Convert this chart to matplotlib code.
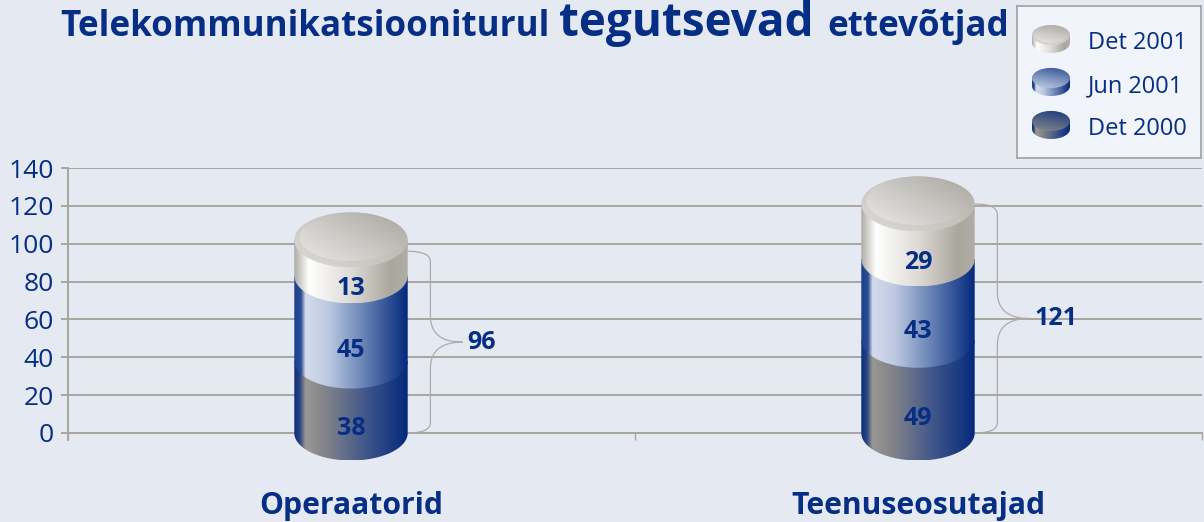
import numpy as np
import matplotlib
matplotlib.use("Agg")
import matplotlib.pyplot as plt
from matplotlib.colors import LinearSegmentedColormap as LSC
from matplotlib.path import Path
from matplotlib.patches import PathPatch

plt.rcParams['font.family'] = ['Open Sans', 'DejaVu Sans']

categories = ["Operaatorid", "Teenuseosutajad"]
det_2000 = [38, 49]
jun_2001 = [45, 43]
det_2001 = [13, 29]
det_2001_drawn = [19, 29]   # the top cylinder piece as drawn in the picture
totals = [96, 121]
series_names = ["Det 2001", "Jun 2001", "Det 2000"]
y_ticks = [0, 20, 40, 60, 80, 100, 120, 140]

W, H = 1204, 522
BG = "#e4e9f2"
NAVY = "#052e84"
LINE = "#a8a6a0"

SIDE = {
    "Det 2001": [(0, "#aeaba4"), (.08, "#e0dfdc"), (.13, "#ffffff"), (.5, "#dedbd6"), (.85, "#aaa79f"), (1, "#b0ada6")],
    "Jun 2001": [(0, "#1c3f8c"), (.06, "#2a4c94"), (.1, "#d5dcec"), (.3, "#bcc9e0"), (.6, "#6d86b8"), (1, "#04297c")],
    "Det 2000": [(0, "#0a2d7e"), (.05, "#2a437f"), (.1, "#9a9792"), (.3, "#7f8189"), (.6, "#465a8a"), (1, "#04297c")],
}
CAP_OUT = {
    "Det 2001": ["#dddcd9", "#aeaba4"],
    "Jun 2001": ["#c3cfe4", "#24478f"],
    "Det 2000": ["#8a8a8c", "#12337f"],
}
CAP_IN = {
    "Det 2001": ["#e9e8e6", "#aaa7a0"],
    "Jun 2001": ["#b8c6de", "#2f5298"],
    "Det 2000": ["#7d7f86", "#1c3b82"],
}


def cmap(stops):
    return LSC.from_list("c", stops)


def grad(ax, x0, x1, y0, y1, data, cm, clip):
    im = ax.imshow(data, extent=(x0, x1, y0, y1), origin="lower", aspect="auto",
                   cmap=cm, vmin=0, vmax=1, interpolation="bilinear", zorder=3)
    im.set_clip_box(ax.figure.bbox)
    im.set_clip_path(clip, ax.transData)


def side(ax, cx, hw, hh, y0, y1, stops):
    t = np.linspace(np.pi, 0, 60)
    xs = cx + hw * np.cos(t)
    ys = y0 - hh * np.sin(t)
    verts = [(cx - hw, y1)] + list(zip(xs, ys)) + [(cx + hw, y1), (cx - hw, y1)]
    grad(ax, cx - hw, cx + hw, y0 - hh, y1, np.linspace(0, 1, 256)[None, :], cmap(stops), Path(verts))


def ellipse_path(cx, cy, hw, hh):
    t = np.linspace(0, 2 * np.pi, 120)
    return Path(np.c_[cx + hw * np.cos(t), cy + hh * np.sin(t)])


def disc(ax, cx, cy, hw, hh, colors, angle):
    u, v = np.meshgrid(np.linspace(0, 1, 64), np.linspace(0, 1, 64))
    a = np.deg2rad(angle)
    d = (u * np.cos(a) + v * np.sin(a)) / (np.cos(a) + np.sin(a))
    grad(ax, cx - hw, cx + hw, cy - hh, cy + hh, d, cmap(colors), ellipse_path(cx, cy, hw, hh))


fig = plt.figure(figsize=(W / 100, H / 100), dpi=100, facecolor=BG)
L, R, T, B = 67.5, 1201.5, 168, 433
ax = fig.add_axes([L / W, 1 - B / H, (R - L) / W, (B - T) / H], facecolor="none")
ax.set_xlim(-0.5, 1.5)
ax.set_ylim(0, 140)
for s in ["top", "right"]:
    ax.spines[s].set_visible(False)
ax.spines["left"].set_color(LINE)
ax.spines["left"].set_linewidth(1.4)
ax.spines["left"].set_bounds(-3.7, 140)
ax.spines["left"].set_zorder(1)
ax.spines["bottom"].set_color(LINE)
ax.spines["bottom"].set_linewidth(1.4)
ax.spines["bottom"].set_zorder(1)
ax.set_yticks(y_ticks)
ax.grid(axis="y", color=LINE, lw=1.4, zorder=1)
ax.set_axisbelow(True)
ax.tick_params(axis="y", length=5, width=1.4, color=LINE, labelcolor=NAVY, labelsize=19, pad=5)
ax.set_xticks([-0.5, 0.5, 1.5])
ax.set_xticklabels([])
ax.tick_params(axis="x", which="major", length=5, width=1, color=LINE)
ax.set_xticks(range(len(categories)), categories, minor=True)
ax.tick_params(axis="x", which="minor", length=0, labelcolor=NAVY, labelsize=21.7, pad=41.5)
for lab in ax.get_xticklabels(minor=True):
    lab.set_fontweight("bold")

HW = 0.1
HH = 27.5 / (B - T) * 140
ratio = 24.3 / 27.5
for i in range(len(categories)):
    a, b, c = det_2000[i], jun_2001[i], det_2001_drawn[i]
    side(ax, i, HW, HH, 0, a, SIDE["Det 2000"])
    side(ax, i, HW, HH, a, a + b, SIDE["Jun 2001"])
    side(ax, i, HW, HH, a + b, a + b + c, SIDE["Det 2001"])
    top = a + b + c
    disc(ax, i, top, HW, HH, CAP_OUT["Det 2001"], 40)
    disc(ax, i, top + HH - HH * ratio, HW * 0.91, HH * ratio, CAP_IN["Det 2001"], 40)
    mids = [a / 2 - HH, a + b / 2 - HH, a + b + c / 2 - HH + 0.5]
    for y, v in zip(mids, [det_2000[i], jun_2001[i], det_2001[i]]):
        ax.text(i, y - 2.3, str(v), ha="center", va="center", color=NAVY, fontsize=18,
                fontweight="bold", zorder=5)
    # curly brace from the base to the stack total
    t = totals[i]
    x0 = i + HW
    x1 = x0 + 0.040
    x2 = x0 + 0.097
    bend = 5.5
    curl = 14
    verts = [(x0, t), (x1, t), (x1, t - bend), (x1, t / 2 + curl),
             (x1, t / 2 + 1), (x2 - .02, t / 2), (x2, t / 2),
             (x2 - .02, t / 2), (x1, t / 2 - 1), (x1, t / 2 - curl),
             (x1, bend), (x1, 0), (x0, 0)]
    codes = [Path.MOVETO, Path.CURVE3, Path.CURVE3, Path.LINETO,
             Path.CURVE4, Path.CURVE4, Path.CURVE4,
             Path.CURVE4, Path.CURVE4, Path.CURVE4,
             Path.LINETO, Path.CURVE3, Path.CURVE3]
    ax.add_patch(PathPatch(Path(verts, codes), fc="none", ec="#aeaca8", lw=0.9, zorder=2, clip_on=False))
    ax.text(x2 + 0.008, t / 2, str(t), ha="left", va="center", color=NAVY, fontsize=18,
            fontweight="bold", zorder=5)

# title
for x, txt, size in [(60, "Telekommunikatsiooniturul", 25.2), (559, "tegutsevad", 33), (827, "ettevõtjad", 25.2)]:
    fig.text(x / W, 1 - 36 / H, txt, color=NAVY, fontsize=size, fontweight="bold", ha="left", va="baseline")

# legend
lx0, lx1, ly0, ly1 = 1017, 1201, 6, 158
lg = fig.add_axes([lx0 / W, 1 - ly1 / H, (lx1 - lx0) / W, (ly1 - ly0) / H], facecolor="#f1f4fa")
lg.set_xlim(0, lx1 - lx0)
lg.set_ylim(0, ly1 - ly0)
lg.set_xticks([])
lg.set_yticks([])
for s in lg.spines.values():
    s.set_color("#a6a6a6")
    s.set_linewidth(1.3)
for k, name in enumerate(series_names):
    base = (ly1 - ly0) - 29 - 43 * k
    lhw, lhh = 19, 10
    side(lg, 34, lhw, lhh, base - 8, base, SIDE[name])
    disc(lg, 34, base, lhw, lhh, CAP_OUT[name], 70)
    disc(lg, 34, base + 1, lhw * 0.9, lhh * 0.86, CAP_IN[name], 70)
    lg.text(71, base - 8, name, color=NAVY, fontsize=17, ha="left", va="center", zorder=5)

fig.savefig("out.png", dpi=100, facecolor=BG)
